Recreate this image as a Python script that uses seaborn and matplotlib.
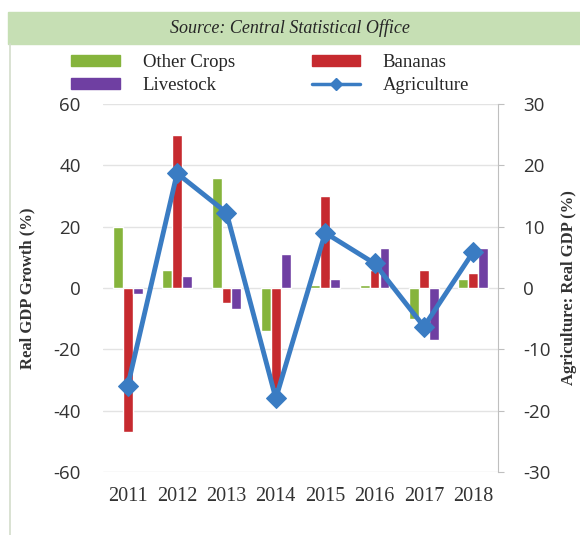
import numpy as np
import pandas as pd
import matplotlib.pyplot as plt
import seaborn as sns
from matplotlib.patches import Rectangle, Patch
from matplotlib.lines import Line2D

# dados
years = ['2011', '2012', '2013', '2014', '2015', '2016', '2017', '2018']
other_crops = [20, 6, 36, -14, 1, 1, -10, 3]
bananas = [-47, 50, -5, -33, 30, 6, 6, 5]
livestock = [-2, 4, -7, 11, 3, 13, -17, 13]
agriculture = [-16, 18.7, 12.3, -18, 9, 4, -6.3, 5.9]

series_names = ['Other Crops', 'Bananas', 'Livestock']
colors = ['#86B43C', '#C62A2F', '#6F3FA2']
line_color = '#3A7CC3'

df = pd.DataFrame({'Year': years, 'Other Crops': other_crops,
                   'Bananas': bananas, 'Livestock': livestock})
long_df = df.melt(id_vars='Year', var_name='Series', value_name='Value')

sns.set_style('white')
plt.rcParams['axes.unicode_minus'] = False
serif = ['Liberation Serif', 'DejaVu Serif']
sans = ['Open Sans', 'DejaVu Sans']

fig = plt.figure(figsize=(5.8, 5.35), dpi=100)
ax = fig.add_axes([103 / 580, 1 - 472 / 535, 395 / 580, 368 / 535])

sns.barplot(data=long_df, x='Year', y='Value', hue='Series',
            hue_order=series_names, palette=colors, width=0.6,
            saturation=1, ax=ax, legend=False)
ax.set_ylim(-60, 60)
ax.set_yticks(range(-60, 61, 20))
ax.set_xlim(-0.5, 7.5)
ax.grid(axis='y', color='#E3E3E3', linewidth=1)
ax.set_axisbelow(True)
for s in ax.spines.values():
    s.set_visible(False)
ax.tick_params(axis='y', length=0, pad=16)
ax.tick_params(axis='x', length=0, pad=11)
ax.set_xlabel('')
ax.set_ylabel('Real GDP Growth (%)', family=serif, fontsize=12, weight='bold',
              color='#333333')
ax.yaxis.set_label_coords(-0.17, 0.5)
for lbl in ax.get_yticklabels():
    lbl.set_family(sans)
    lbl.set_fontsize(13.5)
    lbl.set_color('#333333')
for lbl in ax.get_xticklabels():
    lbl.set_family(serif)
    lbl.set_fontsize(14.5)
    lbl.set_color('#333333')

ax2 = ax.twinx()
sns.lineplot(x=np.arange(len(years)), y=agriculture, ax=ax2, color=line_color,
             linewidth=3.5, marker='D', markersize=10, markeredgecolor=line_color)
ax2.set_ylim(-30, 30)
ax2.set_yticks(range(-30, 31, 10))
for name, s in ax2.spines.items():
    s.set_visible(name == 'right')
ax2.spines['right'].set_color('#BFBFBF')
ax2.tick_params(axis='y', length=4, color='#BFBFBF', pad=14)
for lbl in ax2.get_yticklabels():
    lbl.set_family(sans)
    lbl.set_fontsize(13.5)
    lbl.set_color('#333333')
ax2.set_ylabel('Agriculture: Real GDP (%)', family=serif, fontsize=12,
               weight='bold', color='#333333', rotation=90)
ax2.yaxis.label.set_verticalalignment('center')
ax2.yaxis.set_label_coords((569 - 103) / 395, 0.5)

# faixa de cabeçalho
fig.patches.append(Rectangle((8 / 580, 1 - 44 / 535), 1, 32 / 535,
                             transform=fig.transFigure, color='#C6DFB4', zorder=0))
fig.text(0.5, 1 - 28 / 535, 'Source: Central Statistical Office',
         ha='center', va='center', family=serif, style='italic', fontsize=13)
fig.add_artist(Line2D([10 / 580, 10 / 580], [0, 1 - 44 / 535],
                      transform=fig.transFigure, color='#D3DDCB', linewidth=1.2))

handles = [Patch(color=colors[0]), Patch(color=colors[2]),
           Patch(color=colors[1]),
           Line2D([], [], color=line_color, linewidth=2.5, marker='D', markersize=6)]
labels = ['Other Crops', 'Livestock', 'Bananas', 'Agriculture']
fig.legend(handles, labels, ncol=2, loc='center', bbox_to_anchor=(0.466, 1 - 74 / 535),
           frameon=False, prop={'family': serif, 'size': 13.5},
           handlelength=2.6, handleheight=0.55, columnspacing=4.1,
           labelspacing=0.3, handletextpad=1.2)

fig.savefig('out.png', dpi=100)
